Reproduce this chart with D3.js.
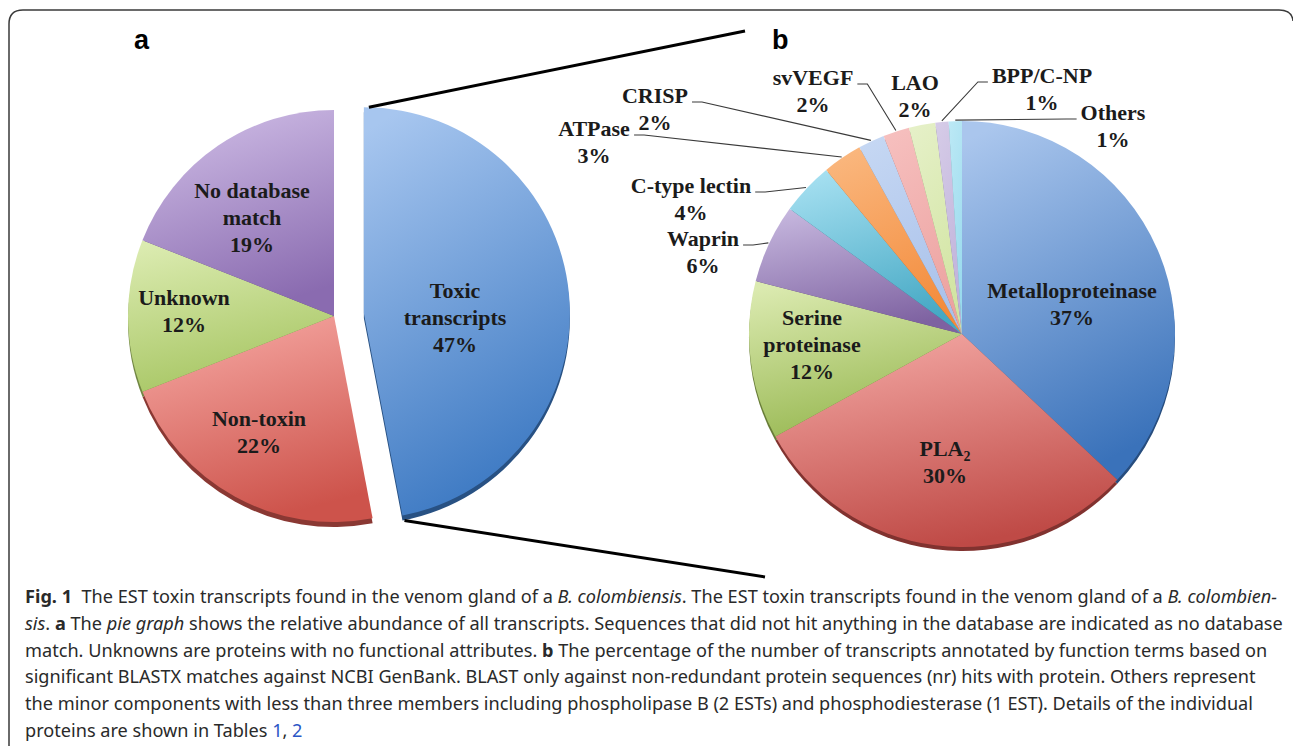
<!DOCTYPE html>
<meta charset="utf-8">
<script src="https://cdn.jsdelivr.net/npm/d3@7"></script>
<style>

body {
  margin: 0;
  background: #fff;
}

svg {
  display: block;
}

.lbl {
  font-family: "Liberation Serif", "Times New Roman", serif;
  font-weight: bold;
  font-size: 22px;
  fill: #1b1b1b;
}

.panel {
  font-family: "Liberation Sans", Arial, sans-serif;
  font-weight: bold;
  font-size: 27px;
  fill: #000;
}

.caption {
  font-family: "Noto Sans", "Open Sans", sans-serif;
  font-size: 17.5px;
  fill: #2a2a2a;
  white-space: pre;
}

.leader {
  fill: none;
  stroke: #3a3a3a;
  stroke-width: 1.1;
}

.zoomline {
  stroke: #000;
  stroke-width: 3;
}

</style>
<body>
<div class="chart"></div>
<script type="text/javascript">

// ---- data: panel a (all transcripts) ----
var totalCats = ["Toxic transcripts", "Non-toxin", "Unknown", "No database match"];
var totalVals = [47, 22, 12, 19];
var totalLines = [["Toxic", "transcripts"], ["Non-toxin"], ["Unknown"], ["No database", "match"]];

// ---- data: panel b (toxin transcripts) ----
var toxinCats = ["Metalloproteinase", "PLA2", "Serine proteinase", "Waprin", "C-type lectin",
                 "ATPase", "CRISP", "svVEGF", "LAO", "BPP/C-NP", "Others"];
var toxinVals = [37, 30, 12, 6, 4, 3, 2, 2, 2, 1, 1];
var toxinLines = [["Metalloproteinase"], ["PLA2"], ["Serine", "proteinase"], ["Waprin"], ["C-type lectin"],
                  ["ATPase"], ["CRISP"], ["svVEGF"], ["LAO"], ["BPP/C-NP"], ["Others"]];

// slice colours [light, dark] for the gradient
var totalColors = [["#a7c6ef", "#3b78c2"], ["#f6a8a3", "#cd534b"], ["#dbebb0", "#a6c562"], ["#cfbde6", "#8a6bb0"]];
var toxinColors = [["#aac6ed", "#3a72ba"], ["#f3a7a3", "#bf4a46"], ["#dbeab0", "#98b852"], ["#c6b7de", "#7e62a1"],
                   ["#a6e0f1", "#45a8c4"], ["#fab77e", "#f38b3b"], ["#c5d7f3", "#a9c1ea"], ["#f6bfbe", "#eca2a0"],
                   ["#e5f0c7", "#d1e4a1"], ["#d5cbe7", "#bfb1da"], ["#bbe8f5", "#98daed"]];

// label anchors (block centre x, first line centre y), relative to each pie centre
var totalAnchors = [[121, -26], [-75, 102], [-150, -19], [-82, -126]];
var toxinAnchors = [[110, -44], [-17, 114], [-150, -17], [-259, -96], [-271, -149],
                    [-368, -206], [-307, -239], [-149, -257], [-47, -252], [80, -259], [151, -222]];
var toxinLeader = [false, false, false, true, true, true, true, true, false, true, true];

// caption runs: [text, style]
var captionLines = [
  [["Fig. 1", "b"], ["\u00a0 The EST toxin transcripts found in the venom gland of a ", ""], ["B. colombiensis", "i"],
   [". The EST toxin transcripts found in the venom gland of a ", ""], ["B. colombien-", "i"]],
  [["sis", "i"], [". ", ""], ["a", "b"], [" The ", ""], ["pie graph", "i"],
   [" shows the relative abundance of all transcripts. Sequences that did not hit anything in the database are indicated as no database", ""]],
  [["match. Unknowns are proteins with no functional attributes. ", ""], ["b", "b"],
   [" The percentage of the number of transcripts annotated by function terms based on", ""]],
  [["significant BLASTX matches against NCBI GenBank. BLAST only against non-redundant protein sequences (nr) hits with protein. Others represent", ""]],
  [["the minor components with less than three members including phospholipase B (2 ESTs) and phosphodiesterase (1 EST). Details of the individual", ""]],
  [["proteins are shown in Tables ", ""], ["1", "l"], [", ", ""], ["2", "l"]]
];

// ---- layout ----
var width = 1293, height = 746;
var pieA = {cx: 334, cy: 316, r: 206, explode: 30, depth: 5};
var pieB = {cx: 962, cy: 334, r: 213, depth: 4};
var lineH = 27;

var svg = d3.select(".chart").append("svg")
    .attr("width", width)
    .attr("height", height);

var defs = svg.append("defs");

// figure frame (open at the bottom / right)
svg.append("path")
    .attr("d", "M9,746 V24 Q9,10 23,10 H1279 Q1292,10 1293,21")
    .attr("fill", "none")
    .attr("stroke", "#3a3a3a")
    .attr("stroke-width", 1.5);

svg.append("text").attr("class", "panel").attr("x", 134).attr("y", 49).text("a");
svg.append("text").attr("class", "panel").attr("x", 772).attr("y", 49).text("b");

var pie = d3.pie().sort(null).value(function(d) { return d; });

function gradient(id, c) {
  var g = defs.append("linearGradient")
      .attr("id", id)
      .attr("x1", 0.2).attr("y1", 0).attr("x2", 0.5).attr("y2", 1);
  g.append("stop").attr("offset", "0%").attr("stop-color", c[0]);
  g.append("stop").attr("offset", "100%").attr("stop-color", c[1]);
}

// draws one pie with a thin 3D rim; returns the arc data
function drawPie(cfg, vals, colors, key, explodeIdx) {
  var arcs = pie(vals);
  var arc = d3.arc().innerRadius(0).outerRadius(cfg.r);
  var g = svg.append("g").attr("transform", "translate(" + cfg.cx + "," + cfg.cy + ")");

  arcs.forEach(function(d, i) {
    var mid = (d.startAngle + d.endAngle) / 2;
    var e = (i === explodeIdx) ? cfg.explode : 0;
    d.off = [e * Math.sin(mid), -e * Math.cos(mid)];
    d.mid = mid;
    gradient(key + i, colors[i]);
  });

  // rim first, then the faces
  g.selectAll(".rim").data(arcs).enter().append("path")
      .attr("class", "rim")
      .attr("d", arc)
      .attr("transform", function(d) { return "translate(" + d.off[0] + "," + (d.off[1] + cfg.depth) + ")"; })
      .attr("fill", function(d, i) { return d3.color(colors[i][1]).darker(1.1); });

  g.selectAll(".face").data(arcs).enter().append("path")
      .attr("class", "face")
      .attr("d", arc)
      .attr("transform", function(d) { return "translate(" + d.off[0] + "," + d.off[1] + ")"; })
      .attr("fill", function(d, i) { return "url(#" + key + i + ")"; });

  return arcs;
}

function drawLabel(cfg, anchor, lines, pct) {
  var all = lines.concat([pct + "%"]);
  var x = cfg.cx + anchor[0], y0 = cfg.cy + anchor[1];
  var first = null;
  all.forEach(function(s, j) {
    var t = svg.append("text")
        .attr("class", "lbl")
        .attr("x", x)
        .attr("y", y0 + j * lineH)
        .attr("dy", "0.35em")
        .attr("text-anchor", "middle");
    if (s === "PLA2") {
      t.append("tspan").text("PLA");
      t.append("tspan").attr("font-size", 14).attr("dy", 5).text("2");
    } else {
      t.text(s);
    }
    if (j === 0) first = t;
  });
  return first;
}

// ---- panel a ----
var arcsA = drawPie(pieA, totalVals, totalColors, "ga", 0);
arcsA.forEach(function(d, i) {
  drawLabel({cx: pieA.cx, cy: pieA.cy}, totalAnchors[i], totalLines[i], totalVals[i]);
});

// ---- panel b ----
var arcsB = drawPie(pieB, toxinVals, toxinColors, "gb", -1);
arcsB.forEach(function(d, i) {
  var t = drawLabel(pieB, toxinAnchors[i], toxinLines[i], toxinVals[i]);
  if (!toxinLeader[i]) return;
  // leader from label to the rim of the slice
  var bb = t.node().getBBox();
  var px = pieB.cx + (pieB.r + 1) * Math.sin(d.mid),
      py = pieB.cy - (pieB.r + 1) * Math.cos(d.mid);
  var left = (bb.x + bb.width / 2) < px;
  var sx = left ? bb.x + bb.width + 4 : bb.x - 4,
      sy = pieB.cy + toxinAnchors[i][1] + 7;
  var ex = left ? sx + 10 : sx - 10;
  svg.append("path")
      .attr("class", "leader")
      .attr("d", d3.line()([[sx, sy], [ex, sy], [px, py]]));
});

// ---- zoom lines from the exploded slice to panel b ----
var tox = arcsA[0];
var ox = pieA.cx + tox.off[0], oy = pieA.cy + tox.off[1];
var topPt = [ox + pieA.r * Math.sin(tox.startAngle) + 5, oy - pieA.r * Math.cos(tox.startAngle)];
var botPt = [ox + pieA.r * Math.sin(tox.endAngle) + 2, oy - pieA.r * Math.cos(tox.endAngle) + pieA.depth];
svg.append("line").attr("class", "zoomline")
    .attr("x1", topPt[0]).attr("y1", topPt[1])
    .attr("x2", pieB.cx - 217).attr("y2", pieB.cy - 303);
svg.append("line").attr("class", "zoomline")
    .attr("x1", botPt[0]).attr("y1", botPt[1])
    .attr("x2", pieB.cx - 197).attr("y2", pieB.cy + 243);

// ---- caption ----
var capX = 25, capY = 603, capW = 1252;
var capTexts = captionLines.map(function(runs, i) {
  var t = svg.append("text")
      .attr("class", "caption")
      .attr("x", capX)
      .attr("y", capY + i * 26.8);
  runs.forEach(function(r) {
    var ts = t.append("tspan").text(r[0]);
    if (r[1] === "b") ts.attr("font-weight", "bold");
    if (r[1] === "i") ts.attr("font-style", "italic");
    if (r[1] === "l") ts.attr("fill", "#2b56c6");
  });
  return t;
});
// squeeze the glyphs so the first line fills the column, like the journal's condensed face
var scale = capW / capTexts[0].node().getComputedTextLength();
capTexts.forEach(function(t) {
  var w = t.node().getComputedTextLength();
  t.attr("textLength", w * scale).attr("lengthAdjust", "spacingAndGlyphs");
});

</script>
</body>
</html>
